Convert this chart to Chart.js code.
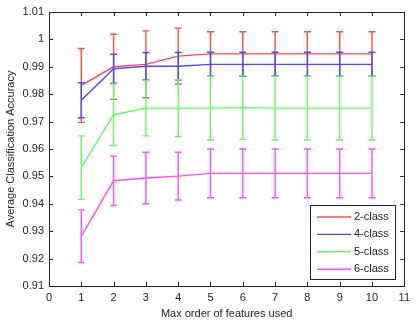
<!DOCTYPE html>
<html>
<head>
<meta charset="utf-8">
<script src="https://cdn.jsdelivr.net/npm/chart.js@4"></script>
<style>
  html, body { margin: 0; padding: 0; background: #fff; }
  #wrap { width: 415px; height: 324px; }
</style>
</head>
<body>
<div id="wrap"><canvas id="chart" width="415" height="324"></canvas></div>
<script>
// feature orders on the x axis
const orders = [1, 2, 3, 4, 5, 6, 7, 8, 9, 10];

// mean accuracy per class count
const acc2 = [0.9832, 0.9900, 0.9909, 0.9939, 0.9947, 0.9947, 0.9947, 0.9947, 0.9947, 0.9947];
const acc4 = [0.9778, 0.9893, 0.9902, 0.9902, 0.9909, 0.9909, 0.9909, 0.9909, 0.9909, 0.9909];
const acc5 = [0.9532, 0.9725, 0.9749, 0.9749, 0.9749, 0.9751, 0.9749, 0.9749, 0.9749, 0.9749];
const acc6 = [0.9282, 0.9484, 0.9494, 0.9501, 0.9511, 0.9511, 0.9511, 0.9511, 0.9511, 0.9511];

// error bar half-lengths
const err2 = [0.0135, 0.0119, 0.0122, 0.0102, 0.0081, 0.0081, 0.0081, 0.0081, 0.0081, 0.0081];
const err4 = [0.0064, 0.0053, 0.0050, 0.0050, 0.0044, 0.0044, 0.0044, 0.0044, 0.0044, 0.0044];
const err5 = [0.0116, 0.0112, 0.0101, 0.0104, 0.0116, 0.0116, 0.0116, 0.0116, 0.0116, 0.0116];
const err6 = [0.0096, 0.0090, 0.0094, 0.0087, 0.0089, 0.0089, 0.0089, 0.0089, 0.0089, 0.0089];

const seriesNames = ['2-class', '4-class', '5-class', '6-class'];
const seriesColors = ['#ff4a4a', '#4a4aff', '#5cff5c', '#ff4cff'];

const xTicks = [0, 1, 2, 3, 4, 5, 6, 7, 8, 9, 10, 11];
const yTicks = [0.91, 0.92, 0.93, 0.94, 0.95, 0.96, 0.97, 0.98, 0.99, 1.00, 1.01];

const means = [acc2, acc4, acc5, acc6];
const errs = [err2, err4, err5, err6];

const datasets = seriesNames.map((name, i) => ({
    label: name,
    data: orders.map((x, j) => ({ x: x, y: means[i][j] })),
    borderColor: seriesColors[i],
    backgroundColor: seriesColors[i],
    borderWidth: 1.4,
    pointRadius: 0,
    fill: false,
    tension: 0,
    order: seriesNames.length - i,
    errs: errs[i]
}));

// error bars drawn right after each line, MATLAB style
const errorBars = {
    id: 'errorBars',
    afterDatasetDraw(chart, args) {
        const ds = chart.data.datasets[args.index];
        const xs = chart.scales.x, ys = chart.scales.y;
        const ctx = chart.ctx;
        ctx.save();
        ctx.strokeStyle = ds.borderColor;
        ctx.lineWidth = 1.4;
        ds.data.forEach((p, j) => {
            const px = xs.getPixelForValue(p.x);
            const top = ys.getPixelForValue(p.y + ds.errs[j]);
            const bot = ys.getPixelForValue(p.y - ds.errs[j]);
            ctx.beginPath();
            ctx.moveTo(px, top); ctx.lineTo(px, bot);
            ctx.moveTo(px - 3.5, top); ctx.lineTo(px + 3.5, top);
            ctx.moveTo(px - 3.5, bot); ctx.lineTo(px + 3.5, bot);
            ctx.stroke();
        });
        ctx.restore();
    }
};

// box, inward ticks on all four sides, and the legend box
const frame = {
    id: 'frame',
    afterDraw(chart) {
        const { ctx, chartArea: a } = chart;
        const xs = chart.scales.x, ys = chart.scales.y;
        ctx.save();
        ctx.strokeStyle = '#222';
        ctx.lineWidth = 1;
        ctx.strokeRect(Math.round(a.left) + 0.5, Math.round(a.top) + 0.5,
            Math.round(a.right - a.left), Math.round(a.bottom - a.top));
        ctx.beginPath();
        xTicks.forEach(v => {
            const px = Math.round(xs.getPixelForValue(v)) + 0.5;
            ctx.moveTo(px, a.bottom); ctx.lineTo(px, a.bottom - 4);
            ctx.moveTo(px, a.top); ctx.lineTo(px, a.top + 4);
        });
        yTicks.forEach(v => {
            const py = Math.round(ys.getPixelForValue(v)) + 0.5;
            ctx.moveTo(a.left, py); ctx.lineTo(a.left + 4, py);
            ctx.moveTo(a.right, py); ctx.lineTo(a.right - 4, py);
        });
        ctx.stroke();

        // legend
        const lx = 310.5, ly = 205.5, lw = 85, lh = 74;
        ctx.fillStyle = '#fff';
        ctx.fillRect(lx, ly, lw, lh);
        ctx.strokeStyle = '#222';
        ctx.strokeRect(lx, ly, lw, lh);
        ctx.font = '11px "Liberation Sans", Arial, sans-serif';
        ctx.textBaseline = 'middle';
        ctx.textAlign = 'left';
        seriesNames.forEach((name, i) => {
            const y = 217 + i * 17.4;
            ctx.strokeStyle = seriesColors[i];
            ctx.lineWidth = 1.4;
            ctx.beginPath();
            ctx.moveTo(317, y); ctx.lineTo(351, y);
            ctx.stroke();
            ctx.fillStyle = '#222';
            ctx.fillText(name, 354, y);
        });
        ctx.restore();
    }
};

new Chart(document.getElementById('chart'), {
    type: 'line',
    data: { datasets: datasets },
    options: {
        responsive: false,
        animation: false,
        layout: { padding: { top: 12, right: 3, left: 4, bottom: 3 } },
        plugins: { legend: { display: false }, tooltip: { enabled: false } },
        scales: {
            x: {
                type: 'linear',
                min: 0, max: 11,
                afterBuildTicks: s => { s.ticks = xTicks.map(v => ({ value: v })); },
                afterFit: s => { s.height = 35; },
                grid: { display: false, drawTicks: false },
                border: { display: false },
                ticks: {
                    padding: 5,
                    color: '#222',
                    font: { family: '"Liberation Sans", Arial, sans-serif', size: 11 },
                    maxRotation: 0
                },
                title: {
                    display: true,
                    text: 'Max order of features used',
                    color: '#222',
                    font: { family: '"Liberation Sans", Arial, sans-serif', size: 11 },
                    padding: { top: 3, bottom: 0 }
                }
            },
            y: {
                type: 'linear',
                min: 0.91, max: 1.01,
                afterBuildTicks: s => { s.ticks = yTicks.map(v => ({ value: v })); },
                afterFit: s => { s.width = 45; },
                grid: { display: false, drawTicks: false },
                border: { display: false },
                ticks: {
                    padding: 5,
                    color: '#222',
                    font: { family: '"Liberation Sans", Arial, sans-serif', size: 11 },
                    callback: v => String(Number(v.toFixed(2)))
                },
                title: {
                    display: true,
                    text: 'Average Classification Accuracy',
                    color: '#222',
                    font: { family: '"Liberation Sans", Arial, sans-serif', size: 11 },
                    padding: { top: 0, bottom: 2 }
                }
            }
        }
    },
    plugins: [errorBars, frame]
});
</script>
</body>
</html>
